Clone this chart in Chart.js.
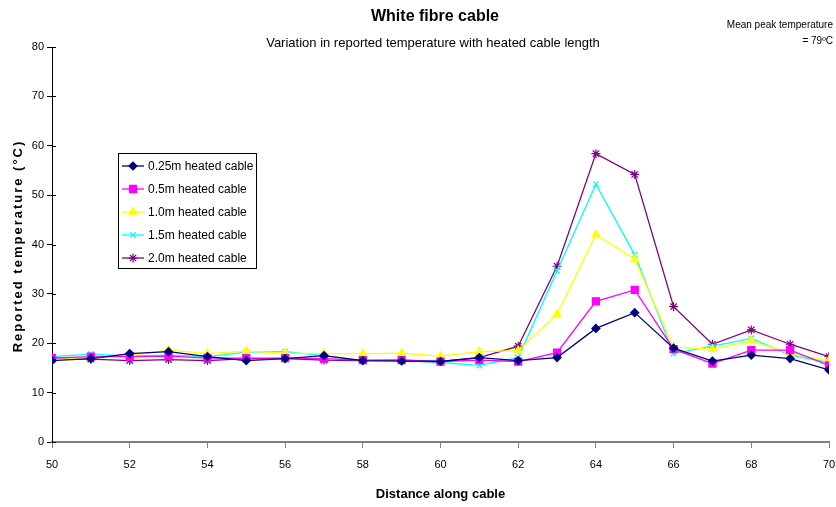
<!DOCTYPE html>
<html>
<head>
<meta charset="utf-8">
<script src="https://cdn.jsdelivr.net/npm/chart.js@4.4.1/dist/chart.umd.min.js"></script>
<style>
html,body{margin:0;padding:0;background:#fff;}
#wrap{width:836px;height:507px;position:relative;}
</style>
</head>
<body>
<div id="wrap"><canvas id="c" width="836" height="507"></canvas></div>
<script>
const distances = [50,51,52,53,54,55,56,57,58,59,60,61,62,63,64,65,66,67,68,69,70];
const seriesNames = ["0.25m heated cable","0.5m heated cable","1.0m heated cable","1.5m heated cable","2.0m heated cable"];
const cable025 = [16.5,16.9,17.9,18.3,17.3,16.5,16.9,17.5,16.5,16.4,16.3,17.1,16.5,17.1,23.0,26.2,19.0,16.4,17.6,16.9,14.6];
const cable05  = [17.0,17.3,17.3,17.4,17.0,17.0,17.0,16.9,16.6,16.6,16.3,16.6,16.3,18.1,28.5,30.8,18.8,15.9,18.6,18.6,15.5];
const cable10  = [16.8,17.0,17.5,18.6,17.9,18.4,18.0,17.9,17.9,18.0,17.4,18.3,18.5,25.9,42.0,37.0,19.2,18.8,20.5,17.9,16.5];
const cable15  = [17.3,17.8,17.4,17.6,17.3,18.2,18.3,17.5,16.5,16.5,16.1,15.5,17.1,34.7,52.2,37.9,17.9,19.4,21.0,17.6,16.1];
const cable20  = [17.0,16.8,16.5,16.7,16.5,16.9,16.9,16.6,16.5,16.6,16.3,17.1,19.4,35.6,58.4,54.2,27.4,19.8,22.7,19.8,17.3];
const xTicks = [50,52,54,56,58,60,62,64,66,68,70];
const yTicks = [0,10,20,30,40,50,60,70,80];

const colors = ["#000080","#FF00FF","#FFFF00","#00FFFF","#800080"];
const styles = ["rectRot","rect","triangle","crossRot","star"];
const radii = [4,5,4.5,4,4.5];
const allSeries = [cable025,cable05,cable10,cable15,cable20];

const datasets = allSeries.map((vals,i)=>({
  label: seriesNames[i],
  data: vals.map((v,j)=>({x:distances[j], y:v})),
  borderColor: colors[i],
  backgroundColor: colors[i],
  pointStyle: styles[i],
  pointRadius: radii[i],
  pointBorderWidth: 1.2,
  borderWidth: 1.3,
  tension: 0
}));

const FONT = "'Liberation Sans', Arial, sans-serif";

const decor = {
  id:'decor',
  afterDraw(chart){
    const ctx = chart.ctx;
    ctx.save();
    ctx.fillStyle = '#000';
    ctx.textAlign = 'center';
    ctx.textBaseline = 'middle';
    ctx.font = "bold 16px " + FONT;
    ctx.fillText("White fibre cable", 435, 17);
    ctx.font = "13px " + FONT;
    ctx.fillText("Variation in reported temperature with heated cable length", 433, 43);
    ctx.textAlign = 'right';
    ctx.font = "10px 'Liberation Sans Narrow', " + FONT;
    ctx.fillText("Mean peak temperature", 833, 25);
    ctx.fillText("= 79\u00BAC", 833, 41);
    // y-axis tick marks extending to the right of the axis
    const ys = chart.scales.y, left = chart.chartArea.left;
    ctx.strokeStyle = '#000'; ctx.lineWidth = 1;
    yTicks.forEach(v=>{
      const py = Math.round(ys.getPixelForValue(v)) + 0.5;
      ctx.beginPath(); ctx.moveTo(left, py); ctx.lineTo(left+4, py); ctx.stroke();
    });
    // y axis title with letter spacing
    ctx.save();
    ctx.fillStyle = '#000';
    ctx.translate(18, 246);
    ctx.rotate(-Math.PI/2);
    ctx.textAlign = 'center';
    ctx.font = "bold 13px " + FONT;
    try { ctx.letterSpacing = '2px'; } catch(e) {}
    ctx.fillText("Reported temperature (\u00B0C)", 0, 0);
    ctx.restore();
    // legend
    const lx = 118, ly = 153, lw = 138, lh = 115;
    ctx.fillStyle = '#fff';
    ctx.fillRect(lx, ly, lw, lh);
    ctx.strokeStyle = '#000';
    ctx.lineWidth = 1;
    ctx.strokeRect(lx+0.5, ly+0.5, lw, lh);
    ctx.font = "12px " + FONT;
    ctx.textAlign = 'left';
    chart.data.datasets.forEach((ds,i)=>{
      const y = ly + 13 + i*23;
      ctx.strokeStyle = ds.borderColor;
      ctx.fillStyle = ds.backgroundColor;
      ctx.lineWidth = 1.3;
      ctx.beginPath();
      ctx.moveTo(122, y); ctx.lineTo(144, y); ctx.stroke();
      ctx.lineWidth = 1.2;
      Chart.helpers.drawPoint(ctx, {pointStyle: ds.pointStyle, radius: ds.pointRadius, rotation:0, borderWidth:1.2}, 133, y);
      ctx.fillStyle = '#000';
      ctx.fillText(ds.label, 148, y+1);
    });
    ctx.restore();
  }
};

new Chart(document.getElementById('c'), {
  type:'line',
  data:{datasets},
  options:{
    responsive:false,
    animation:false,
    layout:{padding:{top:47,right:7,left:0,bottom:0}},
    plugins:{legend:{display:false}, title:{display:false}, tooltip:{enabled:false}},
    scales:{
      x:{
        type:'linear', min:50, max:70,
        afterBuildTicks(scale){ scale.ticks = xTicks.map(v=>({value:v})); },
        afterFit(scale){ scale.height = 65; scale.paddingLeft = 0; scale.paddingRight = 0; },
        ticks:{color:'#000', font:{family:FONT,size:11}, padding:10, maxRotation:0},
        grid:{drawOnChartArea:false, drawTicks:true, tickLength:6, color:'#808080', lineWidth:1},
        border:{display:true, color:'#808080', width:2},
        title:{display:true, text:'Distance along cable', color:'#000', font:{family:FONT,size:13,weight:'bold'}, padding:{top:0,bottom:5}}
      },
      y:{
        type:'linear', min:0, max:80,
        afterBuildTicks(scale){ scale.ticks = yTicks.map(v=>({value:v})); },
        afterFit(scale){ scale.width = 52; scale.paddingTop = 0; scale.paddingBottom = 0; },
        ticks:{color:'#000', font:{family:FONT,size:11}, padding:3},
        grid:{drawOnChartArea:false, drawTicks:true, tickLength:5, color:'#000', lineWidth:1},
        border:{display:true, color:'#000', width:1}
      }
    }
  },
  plugins:[decor]
});
</script>
</body>
</html>
